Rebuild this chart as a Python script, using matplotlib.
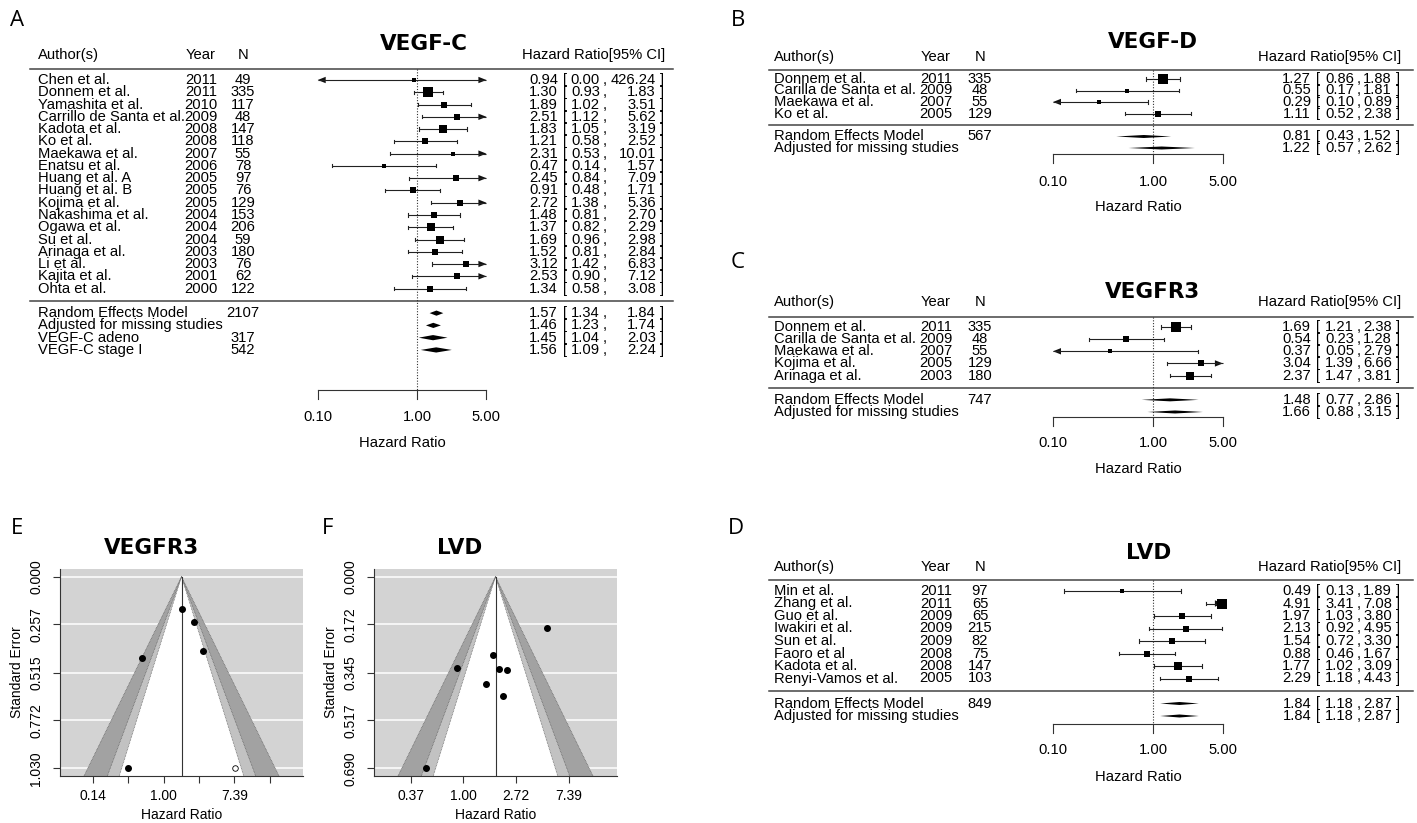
import numpy as np
import matplotlib

matplotlib.use("Agg")
import matplotlib.pyplot as plt
from matplotlib.patches import Polygon

W, H = 1417, 823
plt.rcParams["font.family"] = ["Liberation Sans", "DejaVu Sans"]
TXT = 10.6

# ---- A: VEGF-C ----
vegfc_authors = ["Chen et al.", "Donnem et al.", "Yamashita et al.", "Carrillo de Santa et al.",
                 "Kadota et al.", "Ko et al.", "Maekawa et al.", "Enatsu et al.", "Huang et al. A",
                 "Huang et al. B", "Kojima et al.", "Nakashima et al.", "Ogawa et al.", "Su et al.",
                 "Arinaga et al.", "Li et al.", "Kajita et al.", "Ohta et al."]
vegfc_years = [2011, 2011, 2010, 2009, 2008, 2008, 2007, 2006, 2005, 2005, 2005, 2004, 2004, 2004,
               2003, 2003, 2001, 2000]
vegfc_n = [49, 335, 117, 48, 147, 118, 55, 78, 97, 76, 129, 153, 206, 59, 180, 76, 62, 122]
vegfc_hr = [0.94, 1.30, 1.89, 2.51, 1.83, 1.21, 2.31, 0.47, 2.45, 0.91, 2.72, 1.48, 1.37, 1.69,
            1.52, 3.12, 2.53, 1.34]
vegfc_lo = [0.00, 0.93, 1.02, 1.12, 1.05, 0.58, 0.53, 0.14, 0.84, 0.48, 1.38, 0.81, 0.82, 0.96,
            0.81, 1.42, 0.90, 0.58]
vegfc_hi = [426.24, 1.83, 3.51, 5.62, 3.19, 2.52, 10.01, 1.57, 7.09, 1.71, 5.36, 2.70, 2.29, 2.98,
            2.84, 6.83, 7.12, 3.08]
vegfc_sum_labels = ["Random Effects Model", "Adjusted for missing studies", "VEGF-C adeno", "VEGF-C stage I"]
vegfc_sum_n = ["2107", "", "317", "542"]
vegfc_sum_hr = [1.57, 1.46, 1.45, 1.56]
vegfc_sum_lo = [1.34, 1.23, 1.04, 1.09]
vegfc_sum_hi = [1.84, 1.74, 2.03, 2.24]

# ---- B: VEGF-D ----
vegfd_authors = ["Donnem et al.", "Carilla de Santa et al.", "Maekawa et al.", "Ko et al."]
vegfd_years = [2011, 2009, 2007, 2005]
vegfd_n = [335, 48, 55, 129]
vegfd_hr = [1.27, 0.55, 0.29, 1.11]
vegfd_lo = [0.86, 0.17, 0.10, 0.52]
vegfd_hi = [1.88, 1.81, 0.89, 2.38]
vegfd_sum_labels = ["Random Effects Model", "Adjusted for missing studies"]
vegfd_sum_n = ["567", ""]
vegfd_sum_hr = [0.81, 1.22]
vegfd_sum_lo = [0.43, 0.57]
vegfd_sum_hi = [1.52, 2.62]

# ---- C: VEGFR3 ----
vegfr3_authors = ["Donnem et al.", "Carilla de Santa et al.", "Maekawa et al.", "Kojima et al.", "Arinaga et al."]
vegfr3_years = [2011, 2009, 2007, 2005, 2003]
vegfr3_n = [335, 48, 55, 129, 180]
vegfr3_hr = [1.69, 0.54, 0.37, 3.04, 2.37]
vegfr3_lo = [1.21, 0.23, 0.05, 1.39, 1.47]
vegfr3_hi = [2.38, 1.28, 2.79, 6.66, 3.81]
vegfr3_sum_labels = ["Random Effects Model", "Adjusted for missing studies"]
vegfr3_sum_n = ["747", ""]
vegfr3_sum_hr = [1.48, 1.66]
vegfr3_sum_lo = [0.77, 0.88]
vegfr3_sum_hi = [2.86, 3.15]

# ---- D: LVD ----
lvd_authors = ["Min et al.", "Zhang et al.", "Guo et al.", "Iwakiri et al.", "Sun et al.",
               "Faoro et al", "Kadota et al.", "Renyi-Vamos et al."]
lvd_years = [2011, 2011, 2009, 2009, 2009, 2008, 2008, 2005]
lvd_n = [97, 65, 65, 215, 82, 75, 147, 103]
lvd_hr = [0.49, 4.91, 1.97, 2.13, 1.54, 0.88, 1.77, 2.29]
lvd_lo = [0.13, 3.41, 1.03, 0.92, 0.72, 0.46, 1.02, 1.18]
lvd_hi = [1.89, 7.08, 3.80, 4.95, 3.30, 1.67, 3.09, 4.43]
lvd_sum_labels = ["Random Effects Model", "Adjusted for missing studies"]
lvd_sum_n = ["849", ""]
lvd_sum_hr = [1.84, 1.84]
lvd_sum_lo = [1.18, 1.18]
lvd_sum_hi = [2.87, 2.87]

forest_ticks = [0.10, 1.00, 5.00]

# ---- E / F: funnel plots (standard errors) ----
vegfr3_se = [0.173, 0.438, 1.030, 0.400, 0.243]
vegfr3_filled_hr = [7.45]
vegfr3_filled_se = [1.030]
vegfr3_se_ticks = [0.000, 0.257, 0.515, 0.772, 1.030]
vegfr3_xticks = [-2, -1, 0, 1, 2, 3]
vegfr3_xticklabels = ["0.14", "", "1.00", "", "7.39", ""]

lvd_se = [0.690, 0.186, 0.333, 0.429, 0.388, 0.329, 0.283, 0.337]
lvd_se_ticks = [0.000, 0.172, 0.345, 0.517, 0.690]
lvd_xticks = [-1, 0, 1, 2]
lvd_xticklabels = ["0.37", "1.00", "2.72", "7.39"]

funnel_levels = [2.576, 1.960, 1.645]
funnel_shades = ["#a2a2a2", "#c2c2c2", "white"]

LAY_A = dict(box=(0, 0, 700, 460), x0=417, ppu=99.3, ytop=80, toprow=18, ppr=12.27,
             author_x=38, year_x=201, n_x=243, est_x=558, lb_open=565, lb_x=600, comma_x=605,
             ub_x=656, rb_x=662, head_x=665, line_x=(30, 673), head_line_y=69, head_y=55,
             title=(424, 44), axis_y=390, ticklab_y=417, xlabel_y=443, dia=2.6, sq=6.5, sq_add=0.0)
LAY_B = dict(box=(720, 0, 1417, 230), x0=1153, ppu=100, ytop=79, toprow=4, ppr=11.5,
             author_x=774, year_x=936, n_x=980, est_x=1311, lb_open=1318, lb_x=1354, comma_x=1359,
             ub_x=1392, rb_x=1398, head_x=1401, line_x=(769, 1413), head_line_y=70, head_y=57,
             title=(1153, 42), axis_y=154, ticklab_y=182, xlabel_y=207, dia=1.5, sq=5.6, sq_add=1.5)
LAY_C = dict(LAY_B, box=(720, 230, 1417, 490), ytop=327, toprow=5, ppr=12.14, head_line_y=317,
             head_y=302, title=(1153, 292), axis_y=417, ticklab_y=443, xlabel_y=469)
LAY_D = dict(LAY_B, box=(720, 490, 1417, 823), ytop=591, toprow=8, ppr=12.5, head_line_y=580,
             head_y=567, title=(1149, 553), axis_y=724, ticklab_y=750, xlabel_y=777)


def draw_forest(fig, lay, title, authors, years, ns, hr, lo, hi, s_lab, s_n, s_hr, s_lo, s_hi):
    l, t, r, b = lay["box"]
    ax = fig.add_axes([l / W, 1 - b / H, (r - l) / W, (b - t) / H])
    x0, ppu, ytop, toprow, ppr = lay["x0"], lay["ppu"], lay["ytop"], lay["toprow"], lay["ppr"]
    ax.set_xlim((l - x0) / ppu, (r - x0) / ppu)
    ax.set_ylim(toprow - (b - ytop) / ppr, toprow + (ytop - t) / ppr)
    ax.axis("off")

    def X(px):
        return (px - x0) / ppu

    def Y(py):
        return toprow - (py - ytop) / ppr

    hr, lo, hi = np.array(hr), np.array(lo), np.array(hi)
    k = len(authors)
    rows = np.arange(k, 0, -1)
    srows = -np.arange(1, len(s_lab) + 1)
    amin, amax = np.log10(forest_ticks[0]), np.log10(forest_ticks[-1])
    est = np.log10(hr)
    low = np.log10(np.clip(lo, 1e-6, None))
    upp = np.log10(hi)

    # CI lines, end caps, arrows where the CI runs past the axis limits
    cap = 1.6 / ppr
    ah_w, ah_h = 8 / ppu, 3.2 / ppr
    for y, e, a, z in zip(rows, est, low, upp):
        a_c, z_c = max(a, amin), min(z, amax)
        ax.plot([a_c, z_c], [y, y], color="#222222", lw=0.8, solid_capstyle="butt")
        if a <= amin:
            ax.add_patch(Polygon([(amin, y), (amin + ah_w, y + ah_h), (amin + ah_w, y - ah_h)],
                                 closed=True, color="#111111", lw=0))
        else:
            ax.plot([a, a], [y - cap, y + cap], color="#222222", lw=0.8)
        if z >= amax:
            ax.add_patch(Polygon([(amax, y), (amax - ah_w, y + ah_h), (amax - ah_w, y - ah_h)],
                                 closed=True, color="#111111", lw=0))
        else:
            ax.plot([z, z], [y - cap, y + cap], color="#222222", lw=0.8)

    # square sizes like metafor: 1/se rescaled into 0.5..1.5
    se = (np.log(hi) - np.log(hr)) / 1.96
    wi = 1 / se
    psize = (wi - wi.min()) / (wi.max() - wi.min()) + 0.5
    for y, e, ps in zip(rows, est, psize):
        side = lay["sq"] * ps + lay["sq_add"]
        ax.plot(e, y, marker="s", ms=side * 0.72, color="black", mew=0, ls="none", zorder=3)

    # summary diamonds
    dh = lay["dia"] / ppr
    for y, e, a, z in zip(srows, np.log10(s_hr), np.log10(s_lo), np.log10(s_hi)):
        ax.add_patch(Polygon([(a, y), (e, y + dh), (z, y), (e, y - dh)], closed=True,
                             color="black", lw=0, zorder=3))

    kw = dict(fontsize=TXT, va="center")
    for y, name, yr, n in zip(rows, authors, years, ns):
        ax.text(X(lay["author_x"]), y, name, ha="left", **kw)
        ax.text(X(lay["year_x"]), y, str(yr), ha="center", **kw)
        ax.text(X(lay["n_x"]), y, str(n), ha="center", **kw)
    for y, name, n in zip(srows, s_lab, s_n):
        ax.text(X(lay["author_x"]), y, name, ha="left", **kw)
        ax.text(X(lay["n_x"]), y, n, ha="center", **kw)

    all_rows = np.concatenate([rows, srows])
    all_hr = np.concatenate([hr, s_hr])
    all_lo = np.concatenate([lo, s_lo])
    all_hi = np.concatenate([hi, s_hi])
    for y, e, a, z in zip(all_rows, all_hr, all_lo, all_hi):
        ax.text(X(lay["est_x"]), y, f"{e:.2f}", ha="right", **kw)
        ax.text(X(lay["lb_open"]), y, "[", ha="center", **kw)
        ax.text(X(lay["lb_x"]), y, f"{a:.2f}", ha="right", **kw)
        ax.text(X(lay["comma_x"]), y, ",", ha="center", **kw)
        ax.text(X(lay["ub_x"]), y, f"{z:.2f}", ha="right", **kw)
        ax.text(X(lay["rb_x"]), y, "]", ha="center", **kw)

    # header
    hy = Y(lay["head_y"])
    ax.text(X(lay["author_x"]), hy, "Author(s)", ha="left", **kw)
    ax.text(X(lay["year_x"]), hy, "Year", ha="center", **kw)
    ax.text(X(lay["n_x"]), hy, "N", ha="center", **kw)
    ax.text(X(lay["head_x"]), hy, "Hazard Ratio[95% CI]", ha="right", **kw)
    ax.text(X(lay["title"][0]), Y(lay["title"][1]), title, ha="center", va="center",
            fontsize=15.5, fontweight="bold", family="DejaVu Sans")

    lx = [X(lay["line_x"][0]), X(lay["line_x"][1])]
    ax.plot(lx, [Y(lay["head_line_y"])] * 2, color="#444444", lw=1.1)
    ax.plot(lx, [0, 0], color="#444444", lw=1.1)

    # reference line at HR = 1
    ax.plot([0, 0], [Y(lay["head_line_y"]), Y(lay["axis_y"])], color="#333333", lw=0.8,
            ls=(0, (1, 1.5)))

    # x axis
    ay = Y(lay["axis_y"])
    ax.plot([amin, amax], [ay, ay], color="#333333", lw=0.8)
    for tk in forest_ticks:
        ax.plot([np.log10(tk)] * 2, [ay, Y(lay["axis_y"] + 9)], color="#333333", lw=0.8)
        ax.text(np.log10(tk), Y(lay["ticklab_y"]), f"{tk:.2f}", ha="center", va="center", fontsize=TXT)
    ax.text((amin + amax) / 2, Y(lay["xlabel_y"]), "Hazard Ratio", ha="center", va="center", fontsize=TXT)


def draw_funnel(fig, box, title, title_x, hr, se, center_hr, se_ticks, xticks, xticklabels,
                filled_hr=None, filled_se=None):
    l, t, r, b = box
    ax = fig.add_axes([l / W, 1 - b / H, (r - l) / W, (b - t) / H])
    c = np.log(center_hr)
    semax = se_ticks[-1]
    half = funnel_levels[0] * semax
    xlo, xhi = c - half, c + half
    pad = (xhi - xlo) * 0.1
    xlo, xhi = xlo - pad, xhi + pad
    ext = (xhi - xlo) * 0.04
    ax.set_xlim(xlo - ext, xhi + ext)
    ybot = semax * 1.04
    ax.set_ylim(ybot, -semax * 0.04)
    ax.set_facecolor("#d3d3d3")

    for s in se_ticks:
        ax.axhline(s, color="white", lw=1.1, zorder=0.5)
    for z, col in zip(funnel_levels, funnel_shades):
        ax.add_patch(Polygon([(c - z * ybot, ybot), (c, 0), (c + z * ybot, ybot)], closed=True,
                             facecolor=col, edgecolor="none", zorder=1))
    for z in funnel_levels:
        ax.plot([c - z * ybot, c, c + z * ybot], [ybot, 0, ybot], color="#555555", lw=0.5,
                ls=(0, (1, 1.2)), zorder=1.5)
    ax.plot([c, c], [0, ybot], color="#333333", lw=0.8, zorder=2)

    ax.plot(np.log(hr), se, "o", color="black", ms=4, zorder=3)
    if filled_hr is not None:
        ax.plot(np.log(filled_hr), filled_se, "o", mfc="white", mec="black", mew=0.6, ms=4, zorder=3)

    for side in ["top", "right"]:
        ax.spines[side].set_visible(False)
    for side in ["left", "bottom"]:
        ax.spines[side].set_color("#333333")
        ax.spines[side].set_linewidth(0.8)
    ax.set_yticks(se_ticks)
    ax.set_yticklabels([f"{s:.3f}" for s in se_ticks], rotation=90, va="center")
    ax.set_xticks(xticks)
    ax.set_xticklabels(xticklabels)
    ax.tick_params(axis="both", length=5, width=0.8, color="#333333", labelsize=10)
    ax.tick_params(axis="y", pad=7)
    ax.tick_params(axis="x", pad=4)

    fig.text(title_x / W, 1 - 548 / H, title, ha="center", va="center", fontsize=15.5,
             fontweight="bold", family="DejaVu Sans")
    fig.text((l - 43) / W, 1 - (t + b) / 2 / H, "Standard Error", rotation=90, ha="center",
             va="center", fontsize=10)
    fig.text((l + r) / 2 / W, 1 - 815 / H, "Hazard Ratio", ha="center", va="center", fontsize=10)


fig = plt.figure(figsize=(W / 100, H / 100), dpi=100)

draw_forest(fig, LAY_A, "VEGF-C", vegfc_authors, vegfc_years, vegfc_n, vegfc_hr, vegfc_lo, vegfc_hi,
            vegfc_sum_labels, vegfc_sum_n, vegfc_sum_hr, vegfc_sum_lo, vegfc_sum_hi)
draw_forest(fig, LAY_B, "VEGF-D", vegfd_authors, vegfd_years, vegfd_n, vegfd_hr, vegfd_lo, vegfd_hi,
            vegfd_sum_labels, vegfd_sum_n, vegfd_sum_hr, vegfd_sum_lo, vegfd_sum_hi)
draw_forest(fig, LAY_C, "VEGFR3", vegfr3_authors, vegfr3_years, vegfr3_n, vegfr3_hr, vegfr3_lo, vegfr3_hi,
            vegfr3_sum_labels, vegfr3_sum_n, vegfr3_sum_hr, vegfr3_sum_lo, vegfr3_sum_hi)
draw_forest(fig, LAY_D, "LVD", lvd_authors, lvd_years, lvd_n, lvd_hr, lvd_lo, lvd_hi,
            lvd_sum_labels, lvd_sum_n, lvd_sum_hr, lvd_sum_lo, lvd_sum_hi)

draw_funnel(fig, (60, 569, 303, 776), "VEGFR3", 152, vegfr3_hr, vegfr3_se, vegfr3_sum_hr[1],
            vegfr3_se_ticks, vegfr3_xticks, vegfr3_xticklabels, vegfr3_filled_hr, vegfr3_filled_se)
draw_funnel(fig, (374, 569, 617, 776), "LVD", 460, lvd_hr, lvd_se, lvd_sum_hr[1],
            lvd_se_ticks, lvd_xticks, lvd_xticklabels)

for letter, px, py in [("A", 17, 20), ("B", 738, 20), ("C", 738, 262), ("D", 736, 529),
                       ("E", 17, 529), ("F", 328, 529)]:
    fig.text(px / W, 1 - py / H, letter, ha="center", va="center", fontsize=16, family="Open Sans")

fig.savefig("out.png", dpi=100)
